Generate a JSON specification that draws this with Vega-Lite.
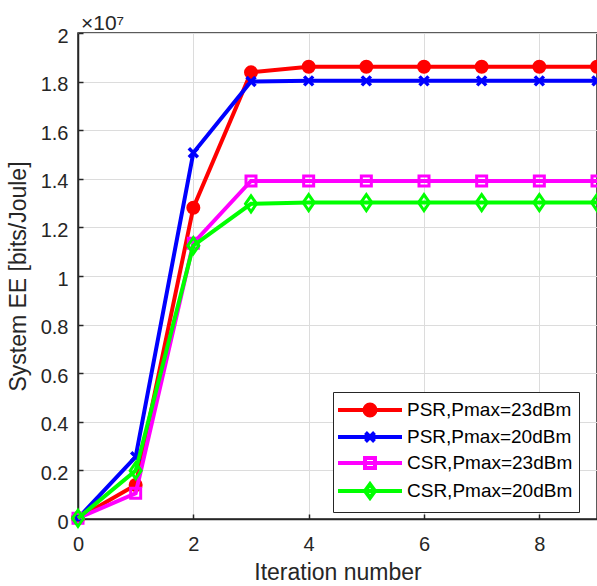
{
  "$schema": "https://vega.github.io/schema/vega-lite/v6.json",
  "width": 519,
  "height": 486,
  "autosize": {"type": "none"},
  "padding": {"left": 78, "top": 33, "right": 0, "bottom": 67},
  "background": "white",
  "title": {"text": "×10⁷", "anchor": "start", "frame": "group", "fontSize": 21, "font": "Liberation Sans", "fontWeight": "normal", "color": "#262626", "baseline": "alphabetic", "offset": -25, "dx": 3},
  "config": {
    "font": "Liberation Sans",
    "view": {"stroke": "#262626", "strokeWidth": 1.5},
    "axis": {
      "domainColor": "#262626", "domainWidth": 1.5,
      "tickColor": "#262626", "tickWidth": 1.5, "tickSize": -5,
      "gridColor": "#dcdcdc", "gridWidth": 1,
      "labelFont": "Liberation Sans", "labelFontSize": 20, "labelColor": "#262626",
      "labelFlush": false, "labelOverlap": false, "labelBound": false,
      "titleFont": "Liberation Sans", "titleFontSize": 23, "titleFontWeight": "normal", "titleColor": "#262626"
    }
  },
  "data": {"values": [
    {"iteration": 0, "ee": 0.003, "series": "PSR,Pmax=23dBm"},
    {"iteration": 1, "ee": 0.14, "series": "PSR,Pmax=23dBm"},
    {"iteration": 2, "ee": 1.281, "series": "PSR,Pmax=23dBm"},
    {"iteration": 3, "ee": 1.838, "series": "PSR,Pmax=23dBm"},
    {"iteration": 4, "ee": 1.861, "series": "PSR,Pmax=23dBm"},
    {"iteration": 5, "ee": 1.861, "series": "PSR,Pmax=23dBm"},
    {"iteration": 6, "ee": 1.861, "series": "PSR,Pmax=23dBm"},
    {"iteration": 7, "ee": 1.861, "series": "PSR,Pmax=23dBm"},
    {"iteration": 8, "ee": 1.861, "series": "PSR,Pmax=23dBm"},
    {"iteration": 9, "ee": 1.861, "series": "PSR,Pmax=23dBm"},
    {"iteration": 0, "ee": 0.003, "series": "PSR,Pmax=20dBm"},
    {"iteration": 1, "ee": 0.256, "series": "PSR,Pmax=20dBm"},
    {"iteration": 2, "ee": 1.507, "series": "PSR,Pmax=20dBm"},
    {"iteration": 3, "ee": 1.8, "series": "PSR,Pmax=20dBm"},
    {"iteration": 4, "ee": 1.803, "series": "PSR,Pmax=20dBm"},
    {"iteration": 5, "ee": 1.803, "series": "PSR,Pmax=20dBm"},
    {"iteration": 6, "ee": 1.803, "series": "PSR,Pmax=20dBm"},
    {"iteration": 7, "ee": 1.803, "series": "PSR,Pmax=20dBm"},
    {"iteration": 8, "ee": 1.803, "series": "PSR,Pmax=20dBm"},
    {"iteration": 9, "ee": 1.803, "series": "PSR,Pmax=20dBm"},
    {"iteration": 0, "ee": 0.003, "series": "CSR,Pmax=23dBm"},
    {"iteration": 1, "ee": 0.106, "series": "CSR,Pmax=23dBm"},
    {"iteration": 2, "ee": 1.135, "series": "CSR,Pmax=23dBm"},
    {"iteration": 3, "ee": 1.391, "series": "CSR,Pmax=23dBm"},
    {"iteration": 4, "ee": 1.391, "series": "CSR,Pmax=23dBm"},
    {"iteration": 5, "ee": 1.391, "series": "CSR,Pmax=23dBm"},
    {"iteration": 6, "ee": 1.391, "series": "CSR,Pmax=23dBm"},
    {"iteration": 7, "ee": 1.391, "series": "CSR,Pmax=23dBm"},
    {"iteration": 8, "ee": 1.391, "series": "CSR,Pmax=23dBm"},
    {"iteration": 9, "ee": 1.391, "series": "CSR,Pmax=23dBm"},
    {"iteration": 0, "ee": 0.003, "series": "CSR,Pmax=20dBm"},
    {"iteration": 1, "ee": 0.199, "series": "CSR,Pmax=20dBm"},
    {"iteration": 2, "ee": 1.125, "series": "CSR,Pmax=20dBm"},
    {"iteration": 3, "ee": 1.297, "series": "CSR,Pmax=20dBm"},
    {"iteration": 4, "ee": 1.302, "series": "CSR,Pmax=20dBm"},
    {"iteration": 5, "ee": 1.302, "series": "CSR,Pmax=20dBm"},
    {"iteration": 6, "ee": 1.302, "series": "CSR,Pmax=20dBm"},
    {"iteration": 7, "ee": 1.302, "series": "CSR,Pmax=20dBm"},
    {"iteration": 8, "ee": 1.302, "series": "CSR,Pmax=20dBm"},
    {"iteration": 9, "ee": 1.302, "series": "CSR,Pmax=20dBm"}
  ]},
  "encoding": {
    "x": {"field": "iteration", "type": "quantitative",
      "scale": {"domain": [0, 9], "nice": false, "zero": false},
      "axis": {"title": "Iteration number", "values": [0, 2, 4, 6, 8], "format": "~g", "labelPadding": 20, "titlePadding": 7}},
    "y": {"field": "ee", "type": "quantitative",
      "scale": {"domain": [0, 2], "nice": false},
      "axis": {"title": "System EE [bits/Joule]", "values": [0, 0.2, 0.4, 0.6, 0.8, 1, 1.2, 1.4, 1.6, 1.8, 2], "format": "~g", "labelPadding": 15, "labelOffset": 3, "titlePadding": 10}},
    "color": {"field": "series", "type": "nominal",
      "scale": {"domain": ["PSR,Pmax=23dBm", "PSR,Pmax=20dBm", "CSR,Pmax=23dBm", "CSR,Pmax=20dBm"], "range": ["#ff0000", "#0000ff", "#ff00ff", "#00ff00"]},
      "legend": {
        "title": null, "orient": "none", "legendX": 255, "legendY": 359,
        "padding": 6, "fillColor": "white", "strokeColor": "#262626", "cornerRadius": 0,
        "labelFont": "Liberation Sans", "labelFontSize": 19, "labelColor": "#000000", "labelLimit": 300,
        "symbolType": "circle", "symbolFillColor": "transparent", "symbolStrokeWidth": 4,
        "symbolSize": 400, "symbolOffset": 19, "labelOffset": 25, "rowPadding": 0,
        "encode": {
          "symbols": {"update": {
            "shape": {"signal": "datum.value === 'PSR,Pmax=23dBm' ? 'M-3.2,0H3.2M-0.55,0A0.55,0.55,0,1,1,0.55,0A0.55,0.55,0,1,1,-0.55,0Z' : datum.value === 'PSR,Pmax=20dBm' ? 'M-3.2,0H3.2M-0.45,-0.45L0.45,0.45M-0.45,0.45L0.45,-0.45' : datum.value === 'CSR,Pmax=23dBm' ? 'M-3.2,0H3.2M-0.5,-0.5H0.5V0.5H-0.5Z' : 'M-3.2,0H3.2M0,-0.68L0.5,0L0,0.68L-0.5,0Z'"},
            "fill": {"signal": "datum.value === 'PSR,Pmax=23dBm' ? '#ff0000' : 'transparent'"},
            "strokeWidth": {"value": 4},
            "opacity": {"value": 1}
          }}
        }
      }}
  },
  "layer": [
    {"transform": [{"filter": "datum.series === 'PSR,Pmax=23dBm'"}],
     "mark": {"type": "line", "strokeWidth": 4}},
    {"transform": [{"filter": "datum.series === 'PSR,Pmax=23dBm'"}],
     "mark": {"type": "point", "filled": false, "fill": "#ff0000", "strokeWidth": 3, "opacity": 1, "size": 100,
      "shape": "M-1.1,0A1.1,1.1,0,1,1,1.1,0A1.1,1.1,0,1,1,-1.1,0Z"}},
    {"transform": [{"filter": "datum.series === 'PSR,Pmax=20dBm'"}],
     "mark": {"type": "line", "strokeWidth": 4}},
    {"transform": [{"filter": "datum.series === 'PSR,Pmax=20dBm'"}],
     "mark": {"type": "point", "filled": false, "strokeWidth": 3.5, "opacity": 1, "size": 100,
      "shape": "M-0.9,-0.9L0.9,0.9M-0.9,0.9L0.9,-0.9"}},
    {"transform": [{"filter": "datum.series === 'CSR,Pmax=23dBm'"}],
     "mark": {"type": "line", "strokeWidth": 4}},
    {"transform": [{"filter": "datum.series === 'CSR,Pmax=23dBm'"}],
     "mark": {"type": "point", "filled": false, "strokeWidth": 3, "opacity": 1, "size": 100,
      "shape": "M-1,-1H1V1H-1Z"}},
    {"transform": [{"filter": "datum.series === 'CSR,Pmax=20dBm'"}],
     "mark": {"type": "line", "strokeWidth": 4}},
    {"transform": [{"filter": "datum.series === 'CSR,Pmax=20dBm'"}],
     "mark": {"type": "point", "filled": false, "strokeWidth": 3, "opacity": 1, "size": 100,
      "shape": "M0,-1.6L1.1,0L0,1.6L-1.1,0Z"}}
  ]
}
